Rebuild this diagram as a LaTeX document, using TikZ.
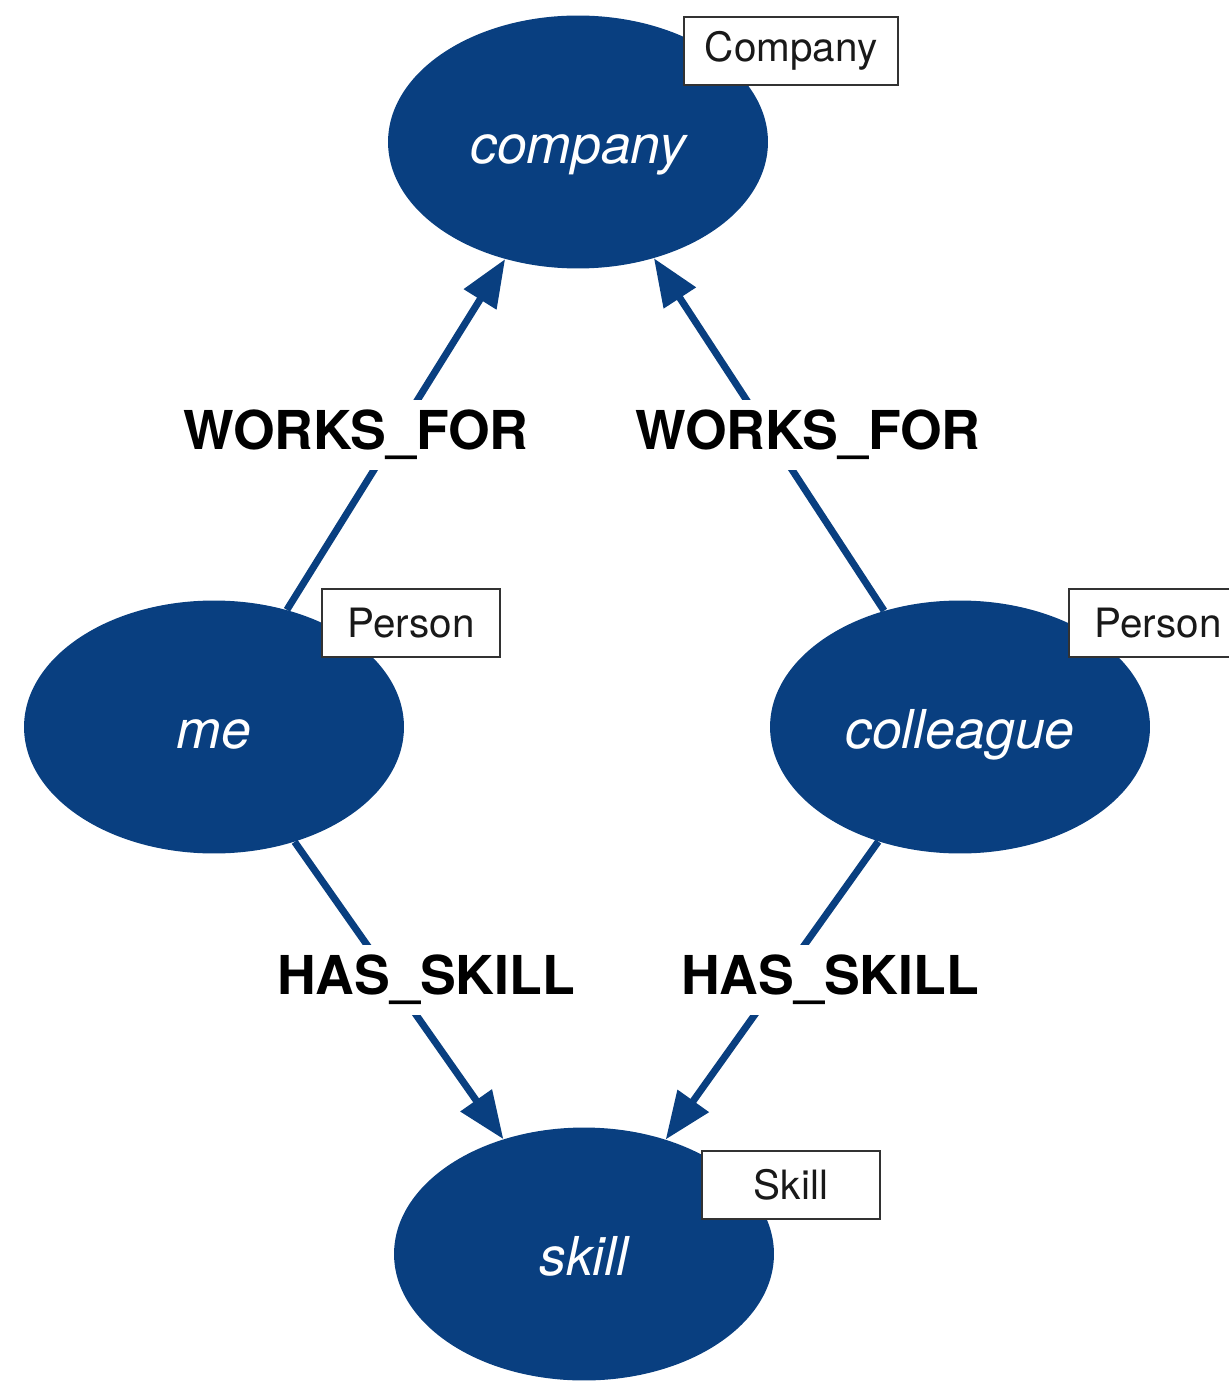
\documentclass[tikz,border=0pt]{standalone}
\usepackage{fontspec}
\setmainfont{TeX Gyre Heros}
\usetikzlibrary{shapes.geometric, arrows.meta}
\definecolor{nodeblue}{RGB}{9,63,128}
\definecolor{tagline}{RGB}{50,50,50}
\tikzset{
    entity/.style = {ellipse, fill=nodeblue, text=white, inner sep=0pt,
        minimum width=7.6cm, minimum height=5.06cm,
        text height=24pt, text depth=0pt,
        font=\fontsize{30.5}{36}\selectfont\itshape},
    tag/.style = {draw=tagline, line width=1.2pt, fill=white, text=black!90,
        minimum width=3.55cm, minimum height=1.36cm, inner xsep=12pt,
        font=\fontsize{23}{27}\selectfont},
}
\tikzset{
    rel/.style = {draw=nodeblue, line width=4pt, -{Triangle[length=27pt, width=21pt]}},
    rel label/.style = {fill=white, inner sep=6pt, font=\fontsize{30.5}{36}\selectfont\bfseries},
}

\begin{document}
\begin{tikzpicture}[x=0.02cm, y=-0.02cm]
				\useasboundingbox (0, 0) rectangle (1229, 1381);

				\node[entity] (company) at (578, 142) {company};
				\node[entity] (me) at (214, 727) {me};
				\node[entity] (colleague) at (960, 727) {colleague};
				\node[entity] (skill) at (584, 1254) {skill};

				\draw[rel] (me) -- (company);
				\draw[rel] (colleague) -- (company);
				\draw[rel] (me) -- (skill);
				\draw[rel] (colleague) -- (skill);

				\node[rel label] (worksMe) at (356, 435) {WORKS\_FOR};
				\node[rel label] (worksColleague) at (808, 435) {WORKS\_FOR};
				\node[rel label] (skillMe) at (426, 980) {HAS\_SKILL};
				\node[rel label] (skillColleague) at (830, 980) {HAS\_SKILL};

				\node[tag] (companyTag) at (791, 51) {Company};
				\node[tag] (meTag) at (411, 623) {Person};
				\node[tag] (colleagueTag) at (1158, 623) {Person};
				\node[tag] (skillTag) at (791, 1185) {Skill};
			\end{tikzpicture}
\end{document}
